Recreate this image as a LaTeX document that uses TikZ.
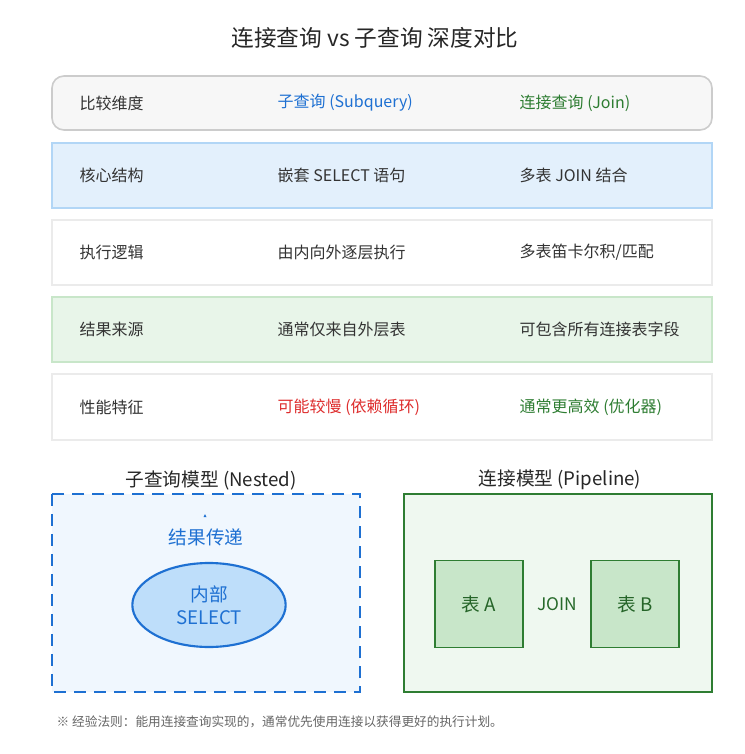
\documentclass[tikz,border=0pt]{standalone}
\usepackage{fontspec}
\usetikzlibrary{shapes.geometric}
\setmainfont{Noto Sans CJK SC}
\definecolor{bC}{RGB}{30,112,210}
\definecolor{bFill}{RGB}{227,240,252}
\definecolor{bBord}{RGB}{178,214,246}
\definecolor{bEll}{RGB}{190,222,250}
\definecolor{bBox}{RGB}{240,247,254}
\definecolor{gC}{RGB}{46,125,50}
\definecolor{gFill}{RGB}{232,245,233}
\definecolor{gBord}{RGB}{200,230,201}
\definecolor{gTbl}{RGB}{200,230,201}
\definecolor{rC}{RGB}{222,45,45}
\begin{document}
\begin{tikzpicture}[x=0.75pt,y=-0.75pt,
  row/.style={line width=1.2pt},
  cell/.style={anchor=west,font=\fontsize{12}{14}\selectfont,text=black!80},
  ttl/.style={font=\fontsize{14}{16}\selectfont,text=black!85},
  tbl/.style={draw=gC,line width=1.2pt,fill=gTbl,minimum width=66pt,minimum height=65pt,inner sep=0pt,font=\fontsize{14}{16}\selectfont,text=gC!80!black}]
\useasboundingbox (0,0) rectangle (745,754);
\fill[white] (0,0) rectangle (745,754);
\node[font=\fontsize{17}{20}\selectfont,text=black!85] (title) at (375,38) {连接查询 vs 子查询 深度对比};
% header
\draw[row,draw=black!20,fill=black!3,rounded corners=9pt] (52,76) rectangle (712,130);
\node[cell] (h1) at (75,103) {比较维度};
\node[cell,text=bC] (h2) at (273,103) {子查询 (Subquery)};
\node[cell,text=gC] (h3) at (515,103) {连接查询 (Join)};
% rows
\draw[row,draw=bBord,fill=bFill] (52,143) rectangle (712,208);
\node[cell] (a1) at (75,175) {核心结构};
\node[cell] (a2) at (273,175) {嵌套 SELECT 语句};
\node[cell] (a3) at (515,175) {多表 JOIN 结合};
\draw[row,draw=black!8,fill=white] (52,220) rectangle (712,285);
\node[cell] (b1) at (75,252) {执行逻辑};
\node[cell] (b2) at (273,252) {由内向外逐层执行};
\node[cell] (b3) at (515,252) {多表笛卡尔积/匹配};
\draw[row,draw=gBord,fill=gFill] (52,297) rectangle (712,362);
\node[cell] (c1) at (75,329) {结果来源};
\node[cell] (c2) at (273,329) {通常仅来自外层表};
\node[cell] (c3) at (515,329) {可包含所有连接表字段};
\draw[row,draw=black!8,fill=white] (52,374) rectangle (712,440);
\node[cell] (d1) at (75,407) {性能特征};
\node[cell,text=rC] (d2) at (273,407) {可能较慢 (依赖循环)};
\node[cell,text=gC] (d3) at (515,407) {通常更高效 (优化器)};
% nested model
\node[ttl] (t1) at (211,480) {子查询模型 (Nested)};
\draw[line width=1.5pt,draw=bC,fill=bBox,dash pattern=on 9pt off 6pt] (52,494) rectangle (360,692);
\fill[bC] (203.5,517) -- (206.5,517) -- (205,514) -- cycle;
\node[font=\fontsize{14}{16}\selectfont,text=bC] (pass) at (206,537) {结果传递};
\node[draw=bC,line width=1.6pt,fill=bEll,ellipse,minimum width=115pt,minimum height=63pt,inner sep=0pt,font=\fontsize{14}{17}\selectfont,text=bC,align=center] (inner) at (209,605) {内部\\SELECT};
% pipeline model
\node[ttl] (t2) at (560,480) {连接模型 (Pipeline)};
\draw[line width=1.5pt,draw=gC,fill=gFill!70!white] (404,494) rectangle (712,692);
\node[tbl] (A) at (479,604) {表 A};
\node[tbl] (B) at (635,604) {表 B};
\node[font=\fontsize{13}{15}\selectfont,text=gC!85!black] (join) at (557,604) {JOIN};
\node[anchor=west,font=\fontsize{9.5}{11}\selectfont,text=black!60] (note) at (52,722) {※ 经验法则：能用连接查询实现的，通常优先使用连接以获得更好的执行计划。};
\end{tikzpicture}
\end{document}
